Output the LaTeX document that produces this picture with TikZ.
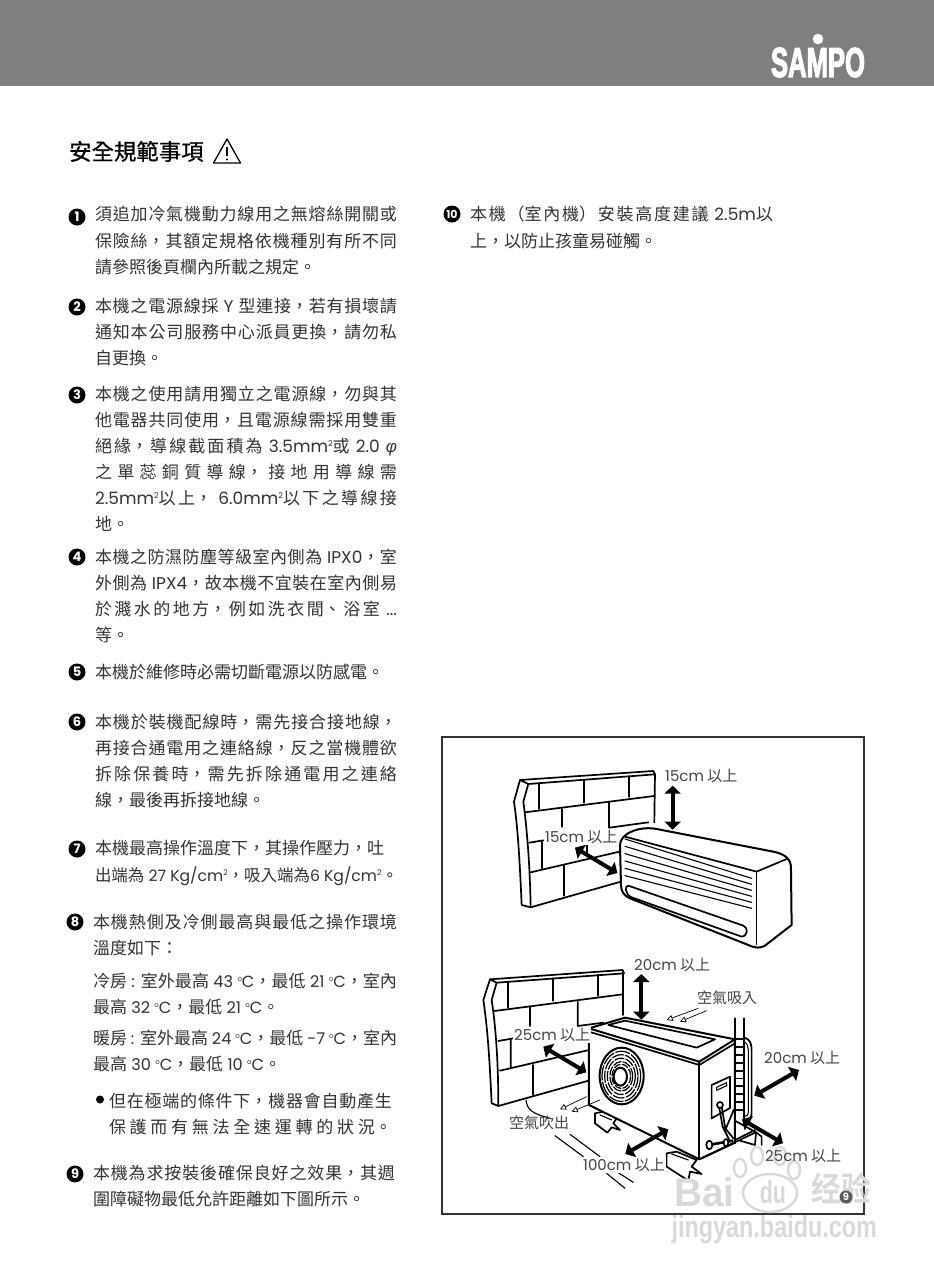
\documentclass[tikz,border=0pt]{standalone}
\usepackage{fontspec}
\usepackage{graphicx}
\usetikzlibrary{arrows.meta}
\setmainfont{Noto Sans CJK TC}
\newfontfamily\latf{Poppins}
\newfontfamily\lathf[Scale=0.95]{Poppins}
\newfontfamily\greekf{Liberation Sans}
\newfontfamily\logof[FakeBold=3.5]{Liberation Sans Bold}
\newfontfamily\titlef[FakeBold=0.7]{Noto Sans CJK TC}
\newfontfamily\wmf{Liberation Sans Bold}
\newfontfamily\scf{Noto Sans CJK SC Bold}
\newcommand\lt[1]{{\latf #1}}
\newcommand\lth[1]{{\lathf #1}}
\newcommand\sq{\raisebox{6pt}{\fontsize{8}{8}\selectfont\latf 2}}
\newcommand\dg{\raisebox{6pt}{\fontsize{7}{7}\selectfont\latf o}}
\XeTeXlinebreaklocale "zh"
\XeTeXlinebreakskip=0pt plus 3pt
\tolerance=10000 \pretolerance=10000 \hbadness=10000 \hfuzz=20pt
\parindent=0pt
\definecolor{band}{HTML}{807F7D}
\definecolor{ink}{HTML}{333333}
\definecolor{lab}{HTML}{444444}
\definecolor{wm}{HTML}{D9D9D9}
\tikzset{
 x=1pt,y=-1pt,
 tline/.style={anchor=base west,inner sep=0pt,outer sep=0pt,text=ink,font=\fontsize{17}{20}\selectfont},
 bullet/.style={circle,fill=black,text=white,inner sep=0pt,minimum size=17pt,font=\fontsize{13}{13}\selectfont\latf\bfseries},
 lablt/.style={anchor=west,inner sep=1pt,fill=white,text=lab,font=\fontsize{15}{15}\selectfont},
 plainlab/.style={anchor=west,inner sep=0pt,text=lab,font=\fontsize{15}{15}\selectfont},
 heavy/.style={line width=1.7pt,black,line join=round,line cap=round},
 fine/.style={line width=1.1pt,black,line join=round,line cap=round},
 body/.style={line width=2pt,black,line join=round},
 dbl/.style={line width=4pt,black,{Triangle[length=8pt,width=16pt]}-{Triangle[length=8pt,width=16pt]}},
 air/.style={line width=.7pt,black,-{Triangle[open,length=6pt,width=6pt,fill=white]}},
 wmtext/.style={inner sep=0pt,text=wm},
 zoomA/.style={shift={(440,735)},x=.3333pt,y=-.3333pt},
 zoomB/.style={shift={(440,950)},x=.3333pt,y=-.3333pt},
}
\newcommand\jl[5]{\node[tline] (#1) at (#2,#3) {\parbox[b]{#4pt}{\parfillskip=0pt #5}};}
\newcommand\pl[4]{\node[tline] (#1) at (#2,#3) {#4};}
\newcommand\outl[7]{% name x y width height font text
 \node[wmtext] (#1) at (#2,#3) {\resizebox{#4pt}{#5pt}{#6 #7}};}
\begin{document}
\begin{tikzpicture}
\useasboundingbox (0,0) rectangle (934,1280);
\fill[white] (0,0) rectangle (934,1280);
\fill[band] (0,0) rectangle (934,85.5);
% logo
\fill[white] (818,39) circle (5.3);
\node[inner sep=0pt,text=white] (logo) at (818,62.5) {\resizebox{94pt}{29pt}{\logof SAMPO}};
% title
\node[anchor=base west,inner sep=0pt,text=black,font=\fontsize{22.4}{24}\selectfont\titlef] (title) at (69,160) {安全規範事項};
\draw[line width=1.3pt,black,line join=round] (213.5,163) -- (227,139) -- (240.5,163) -- cycle;
\draw[line width=1.8pt,black] (227,147) -- (227,156);
\fill[black] (227,159.5) circle (1.1);
% numbered discs
\node[bullet] (n1) at (77,217) {1};
\node[bullet] (n2) at (77,307) {2};
\node[bullet] (n3) at (77,395) {3};
\node[bullet] (n4) at (77,557) {4};
\node[bullet] (n5) at (77,672) {5};
\node[bullet] (n6) at (77,722) {6};
\node[bullet] (n7) at (77,849) {7};
\node[bullet] (n8) at (75,922) {8};
\node[bullet] (n9) at (75,1174) {9};
\node[bullet] (n10) at (452,214) {\fontsize{11}{11}\selectfont 10};
% text
\jl{a1}{95}{220.5}{302}{須追加冷氣機動力線用之無熔絲開關或}
\jl{a2}{95}{247.5}{302}{保險絲，其額定規格依機種別有所不同}
\pl{a3}{95}{273.5}{請參照後頁欄內所載之規定。}
\jl{b1}{95}{312.5}{302}{本機之電源線採\lt{ Y }型連接，若有損壞請}
\jl{b2}{95}{338.5}{302}{通知本公司服務中心派員更換，請勿私}
\pl{b3}{95}{364.5}{自更換。}
\jl{c1}{95}{400.5}{302}{本機之使用請用獨立之電源線，勿與其}
\jl{c2}{95}{426.5}{302}{他電器共同使用，且電源線需採用雙重}
\jl{c3}{95}{452.5}{302}{絕緣，導線截面積為\lt{ 3.5mm}\sq{}或\lt{ 2.0 }{\greekf\itshape φ}}
\jl{c4}{95}{478.5}{302}{之單蕊銅質導線，接地用導線需}
\jl{c5}{95}{504.5}{302}{\lt{2.5mm}\sq{}以上，\lt{ 6.0mm}\sq{}以下之導線接}
\pl{c6}{95}{530.5}{地。}
\jl{d1}{95}{563.5}{302}{本機之防濕防塵等級室內側為\lt{ IPX0}，室}
\jl{d2}{95}{589.5}{302}{外側為\lt{ IPX4}，故本機不宜裝在室內側易}
\jl{d3}{95}{615.5}{302}{於濺水的地方，例如洗衣間、浴室\lt{ ...}}
\pl{d4}{95}{641.5}{等。}
\pl{e1}{95}{678.5}{本機於維修時必需切斷電源以防感電。}
\jl{f1}{95}{728.5}{302}{本機於裝機配線時，需先接合接地線，}
\jl{f2}{95}{754.5}{302}{再接合通電用之連絡線，反之當機體欲}
\jl{f3}{95}{780.5}{302}{拆除保養時，需先拆除通電用之連絡}
\pl{f4}{95}{806.5}{線，最後再拆接地線。}
\pl{g1}{95}{854.5}{本機最高操作溫度下，其操作壓力，吐}
\pl{g2}{95}{881.5}{\resizebox{303pt}{!}{出端為\lth{ 27 Kg/cm}\sq{}，吸入端為\lth{6 Kg/cm}\sq{}。}}
\jl{h1}{93}{928.5}{304}{本機熱側及冷側最高與最低之操作環境}
\pl{h2}{93}{954.5}{溫度如下：}
\jl{h3}{93}{987.5}{304}{冷房\lth{ : }室外最高\lth{ 43 }\dg\lth{C}，最低\lth{ 21 }\dg\lth{C}，室內}
\pl{h4}{93}{1013.5}{最高\lth{ 32 }\dg\lth{C}，最低\lth{ 21 }\dg\lth{C}。}
\jl{h5}{93}{1044.5}{304}{暖房\lth{ : }室外最高\lth{ 24 }\dg\lth{C}，最低\lth{ -7 }\dg\lth{C}，室內}
\pl{h6}{93}{1070.5}{最高\lth{ 30 }\dg\lth{C}，最低\lth{ 10 }\dg\lth{C}。}
\fill[black] (100,1099.5) circle (4);
\jl{h7}{109}{1107.5}{283}{但在極端的條件下，機器會自動產生}
\jl{h8}{109}{1133.5}{283}{保護而有無法全速運轉的狀況。}
\jl{i1}{93}{1179.5}{302}{本機為求按裝後確保良好之效果，其週}
\pl{i2}{93}{1205.5}{圍障礙物最低允許距離如下圖所示。}
\jl{j1}{470}{220.5}{303}{本機（室內機）安裝高度建議\lt{ 2.5m}以}
\pl{j2}{470}{247.5}{上，以防止孩童易碰觸。}
% frame
\draw[line width=1.2pt,ink] (442,737) rectangle (864,1214);
% ---------- indoor unit
\begin{scope}[zoomA]
 \draw[heavy] (240,135) -- (640,108) -- (645,118) -- (265,147) -- cycle;
 \draw[heavy] (240,135) -- (222,200) .. controls (235,290) and (240,400) .. (245,510) -- (272,517) -- (560,435);
 \draw[heavy] (265,147) -- (250,200) .. controls (262,290) and (270,400) .. (272,517);
 \draw[heavy] (645,118) -- (643,262);
 \draw[heavy] (255,232) -- (642,183);
 \draw[heavy] (298,148) -- (298,222) (433,135) -- (433,203) (568,124) -- (568,186);
 \draw[heavy] (365,222) -- (365,275) (508,200) -- (508,278);
 \draw[heavy] (268,323) -- (310,316) (508,278) -- (625,262);
 \draw[heavy] (305,320) -- (305,400) (440,325) -- (440,355);
 \draw[heavy] (272,412) -- (560,345);
 \draw[heavy] (373,392) -- (373,482);
 % unit body
 \filldraw[body,fill=white] (540,330)
   .. controls (540,295) and (600,272) .. (650,282) -- (1000,350)
   .. controls (1040,358) and (1053,375) .. (1053,400) -- (1055,570) -- (975,632)
   .. controls (962,640) and (945,640) .. (925,630) -- (570,490)
   .. controls (550,480) and (544,470) .. (543,450) -- cycle;
 \draw[heavy] (950,410) -- (1040,372);
 \draw[heavy] (950,410) -- (950,628);
 \draw[heavy] (555,305) -- (950,410);
 \foreach \a in {0,1,2,3,4,5} {\draw[fine] (555,{312+\a*22}) -- (935,{430+\a*18});}
 \draw[heavy] (565,452) -- (910,572) .. controls (925,578) and (925,602) .. (905,605)
   -- (575,487) .. controls (555,480) and (553,450) .. (565,452) -- cycle;
 \coordinate (ua) at (698,152); \coordinate (ub) at (698,284);
 \coordinate (uc) at (405,338); \coordinate (ud) at (532,414);
 \draw[dbl] (ua) -- (ub);
 \draw[dbl] (uc) -- (ud);
\end{scope}
\node[plainlab] (la) at (665,776) {\lt{15cm} 以上};
\node[lablt] (lb) at (544,837) {\lt{15cm} 以上};
% ---------- outdoor unit
\begin{scope}[zoomB]
 \draw[heavy] (150,88) -- (548,60) -- (552,70) -- (170,98) -- cycle;
 \draw[heavy] (150,88) -- (130,150) .. controls (145,250) and (150,360) .. (155,460) -- (175,468) -- (460,388);
 \draw[heavy] (170,98) -- (155,150) .. controls (170,250) and (175,360) .. (175,468);
 \draw[heavy] (550,68) -- (550,195);
 \draw[heavy] (163,183) -- (548,133);
 \draw[heavy] (205,98) -- (205,172) (338,85) -- (338,152) (473,74) -- (473,137);
 \draw[heavy] (270,172) -- (270,228) (413,155) -- (413,228) (413,228) -- (490,218);
 \draw[heavy] (175,273) -- (220,265) (212,270) -- (212,352);
 \draw[heavy] (180,362) -- (460,297);
 \draw[heavy] (278,345) -- (278,435);
 % ground and leaders
 \draw[fine] (258,450) .. controls (262,480) and (275,490) .. (330,505);
 \draw[fine] (345,557) -- (430,620) (390,553) -- (480,620) (500,670) -- (555,715) (530,665) -- (580,697);
 % feet
 \filldraw[heavy,fill=white] (465,490) -- (465,520) -- (502,548) -- (515,532) -- (540,540) -- (520,520) -- (530,505) -- (490,485) -- cycle;
 \draw[fine] (480,495) -- (515,510);
 % unit
 \filldraw[body,fill=white] (447,235) -- (555,203) -- (885,268) -- (885,578) -- (778,628) -- (447,465) -- cycle;
 \draw[body] (447,235) -- (778,335) -- (885,268);
 \draw[heavy] (447,245) -- (778,345) -- (885,280);
 \draw[body] (778,335) -- (778,628);
 \draw[heavy] (505,225) -- (555,212) -- (825,268) -- (770,293) -- cycle;
 % fan
 \draw[body] (545,378) ellipse [x radius=66,y radius=85];
 \foreach \rr/\dd in {58/15,50/12,42/10,34/9,28/7} {
  \draw[line width=1.2pt,black,dash pattern=on \dd pt off 1.5pt] (544,379) ellipse [x radius=\rr,y radius={\rr*1.3}];}
 \filldraw[body,fill=white] (541,380) ellipse [x radius=20,y radius=27];
 % panel
 \draw[heavy] (815,405) -- (870,380) -- (870,474) -- (815,505) -- cycle;
 \draw[fine] (830,412) -- (860,398) -- (860,407) -- (830,421) -- cycle;
 \draw[heavy] (840,465) circle [radius=9];
 \draw[heavy] (838,475) -- (848,530) (846,475) -- (856,535) (882,478) -- (858,535) (856,535) -- (880,565) (848,530) -- (868,570);
 % valves
 \draw[line width=2.6pt,black] (805,585) -- (880,572);
 \filldraw[heavy,fill=white] (808,585) ellipse [x radius=9,y radius=13];
 \filldraw[heavy,fill=white] (858,578) ellipse [x radius=7,y radius=11];
 % ladder and hose
 \draw[heavy] (885,205) -- (885,580) (912,205) -- (912,510);
 \foreach \a in {0,...,9} {\draw[heavy] (885,{268+\a*23.5}) -- (912,{268+\a*23.5});}
 \draw[heavy] (912,262) .. controls (930,268) and (935,280) .. (935,300) -- (935,490) .. controls (935,505) and (925,510) .. (912,510);
 \draw[fine] (912,275) .. controls (922,280) and (925,290) .. (925,300) -- (925,485) .. controls (925,495) and (920,500) .. (912,500);
 % right foot
 \draw[heavy] (778,628) -- (945,548) (885,512) -- (950,548) -- (965,560) -- (965,585);
 \draw[heavy] (885,570) -- (945,540);
 \draw[heavy] (900,572) -- (945,585) -- (948,550);
 % front foot
 \filldraw[heavy,fill=white] (680,610) -- (680,650) -- (745,692) -- (750,665) -- (785,672) -- (755,650) -- (770,630) -- (710,605) -- cycle;
 \draw[fine] (695,612) -- (745,630);
 % air arrows
 \coordinate (p1) at (800,182); \coordinate (p2) at (720,215);
 \coordinate (p3) at (775,175); \coordinate (p4) at (680,210);
 \coordinate (p5) at (440,440); \coordinate (p6) at (360,478);
 \coordinate (p7) at (480,450); \coordinate (p8) at (395,485);
 \draw[air] (p1) -- (p2); \draw[air] (p3) -- (p4); \draw[air] (p5) -- (p6); \draw[air] (p7) -- (p8);
 % thick arrows
 \coordinate (q1) at (604,72); \coordinate (q2) at (604,209);
 \coordinate (q3) at (310,290); \coordinate (q4) at (439,367);
 \coordinate (q5) at (943,437); \coordinate (q6) at (1077,360);
 \coordinate (q7) at (906,508); \coordinate (q8) at (1029,580);
 \coordinate (q9) at (556,612); \coordinate (q10) at (685,538);
 \draw[dbl] (q1) -- (q2); \draw[dbl] (q3) -- (q4); \draw[dbl] (q5) -- (q6);
 \draw[dbl] (q7) -- (q8); \draw[dbl] (q9) -- (q10);
\end{scope}
\node[plainlab] (lc) at (634,965) {\lt{20cm} 以上};
\node[lablt] (ld) at (513,1035) {\lt{25cm} 以上};
\node[plainlab] (le) at (764,1058) {\lt{20cm} 以上};
\node[lablt] (lg) at (582,1165) {\lt{100cm} 以上};
\node[plainlab] (lh) at (697,998) {空氣吸入};
\node[plainlab] (li) at (509,1123) {空氣吹出};
% ---------- watermark
\foreach \cx/\cy/\rx/\ry in {740/1168/6/9,757/1156/6/9,780/1156/6/9,794/1170/6/9,770/1193/27/19} {
 \filldraw[wm,fill=white,line width=2.4pt,fill opacity=.7] (\cx,\cy) ellipse [x radius=\rx,y radius=\ry];}
\node[plainlab] (lf) at (765,1156) {\lt{25cm} 以上};
\outl{w1}{699}{1192}{71}{29}{\wmf}{Bai}
\outl{w2}{770}{1192}{32}{23}{\wmf}{du}
\outl{w3}{838}{1188}{66}{29}{\scf}{经验}
\outl{w4}{771}{1230}{212}{22}{\wmf}{jingyan.baidu.com}
\node[circle,fill=ink!80,text=white,inner sep=0pt,minimum size=13pt,font=\fontsize{10}{10}\selectfont\latf\bfseries] (pg) at (846,1197) {9};
\end{tikzpicture}
\end{document}
